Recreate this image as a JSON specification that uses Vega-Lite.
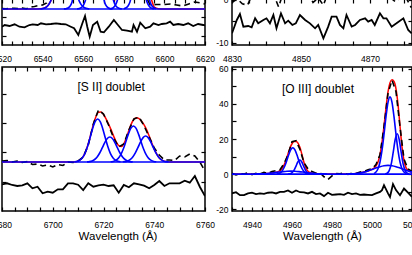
{
  "$schema": "https://vega.github.io/schema/vega-lite/v6.json",
  "autosize": {"type": "none"},
  "padding": {"left": 2, "top": -1, "right": 410, "bottom": 256},
  "background": "white",
  "config": {
    "view": {"stroke": "#000", "strokeWidth": 1.5},
    "axis": {"labelFont": "Liberation Sans", "labelFontSize": 8.5, "labelColor": "#000", "titleFont": "Liberation Sans", "titleFontSize": 11.5, "titleFontWeight": "normal", "titleColor": "#000", "domain": false, "grid": false, "tickColor": "#000", "tickWidth": 1.2, "tickSize": -4, "labelFlush": false, "labelOverlap": false, "titlePadding": 2, "format": "d"},
    "axisX": {"labelPadding": 13},
    "axisY": {"labelPadding": 8}
  },
  "columns": 2,
  "spacing": {"row": 22, "column": 27},
  "bounds": "flush",
  "datasets": {
    "tl_blue": [
      {"c":"C1","w":6539,"f":0.17},{"c":"C1","w":6540,"f":0.43},{"c":"C1","w":6541,"f":1.0},{"c":"C1","w":6542,"f":2.2},{"c":"C1","w":6543,"f":4.4},{"c":"C1","w":6544,"f":8.1},{"c":"C1","w":6545,"f":13.8},{"c":"C1","w":6546,"f":21.6},{"c":"C1","w":6556,"f":21.6},{"c":"C1","w":6557,"f":13.8},{"c":"C1","w":6558,"f":8.1},{"c":"C1","w":6559,"f":4.4},{"c":"C1","w":6560,"f":2.2},{"c":"C1","w":6561,"f":1.0},{"c":"C1","w":6562,"f":0.43},{"c":"C1","w":6563,"f":0.17},
      {"c":"C2","w":6550.5,"f":0.08},{"c":"C2","w":6551.5,"f":0.3},{"c":"C2","w":6552.5,"f":0.96},{"c":"C2","w":6553.5,"f":2.8},{"c":"C2","w":6554.5,"f":7.1},{"c":"C2","w":6555.5,"f":16.5},{"c":"C2","w":6569.5,"f":16.5},{"c":"C2","w":6570.5,"f":7.1},{"c":"C2","w":6571.5,"f":2.8},{"c":"C2","w":6572.5,"f":0.96},{"c":"C2","w":6573.5,"f":0.3},{"c":"C2","w":6574.5,"f":0.08},
      {"c":"C3","w":6557,"f":0.14},{"c":"C3","w":6558,"f":0.47},{"c":"C3","w":6559,"f":1.3},{"c":"C3","w":6560,"f":3.4},{"c":"C3","w":6561,"f":7.9},{"c":"C3","w":6562,"f":16.2},{"c":"C3","w":6574,"f":16.2},{"c":"C3","w":6575,"f":7.9},{"c":"C3","w":6576,"f":3.4},{"c":"C3","w":6577,"f":1.3},{"c":"C3","w":6578,"f":0.47},{"c":"C3","w":6579,"f":0.14},
      {"c":"C4","w":6573,"f":0.18},{"c":"C4","w":6574,"f":0.58},{"c":"C4","w":6575,"f":1.65},{"c":"C4","w":6576,"f":4.3},{"c":"C4","w":6577,"f":9.9},{"c":"C4","w":6578,"f":20.3},{"c":"C4","w":6590,"f":20.3},{"c":"C4","w":6591,"f":9.9},{"c":"C4","w":6592,"f":4.3},{"c":"C4","w":6593,"f":1.65},{"c":"C4","w":6594,"f":0.58},{"c":"C4","w":6595,"f":0.18},
      {"c":"C5","w":6580,"f":0.3},{"c":"C5","w":6581,"f":1.0},{"c":"C5","w":6582,"f":2.8},{"c":"C5","w":6583,"f":6.8},{"c":"C5","w":6584,"f":13.9},{"c":"C5","w":6592,"f":13.9},{"c":"C5","w":6593,"f":6.8},{"c":"C5","w":6594,"f":2.8},{"c":"C5","w":6595,"f":1.0},{"c":"C5","w":6596,"f":0.3},
      {"c":"base","w":6520,"f":0},{"c":"base","w":6620,"f":0}
    ],
    "tl_red": [
      {"w":6520,"f":0},{"w":6536,"f":0},{"w":6539,"f":0.2},{"w":6541,"f":1.0},{"w":6543,"f":4.4},{"w":6545,"f":14},{"w":6547,"f":40},{"w":6573,"f":25},{"w":6575.5,"f":9},{"w":6578,"f":25},{"w":6593,"f":12},{"w":6595,"f":2},{"w":6597,"f":0.3},{"w":6600,"f":0},{"w":6620,"f":0}
    ],
    "tl_data": [
      {"w":6520,"f":0.5},{"w":6522,"f":0.2},{"w":6524,"f":0.8},{"w":6526,"f":0.7},{"w":6528,"f":0.5},{"w":6530,"f":1.0},{"w":6532,"f":0.3},{"w":6534,"f":2.0},{"w":6536,"f":2.5},{"w":6538,"f":3.5},{"w":6540,"f":4.0},{"w":6542,"f":6},{"w":6544,"f":14},{"w":6546,"f":35},{"w":6550,"f":60},{"w":6556,"f":50},{"w":6562,"f":120},{"w":6570,"f":60},{"w":6576,"f":30},{"w":6584,"f":70},{"w":6589,"f":30},{"w":6591,"f":12},{"w":6593,"f":4},{"w":6596,"f":4.5},{"w":6600,"f":4.5},{"w":6603,"f":5},{"w":6606,"f":4},{"w":6609,"f":3},{"w":6612,"f":5},{"w":6615,"f":7},{"w":6618,"f":6},{"w":6620,"f":5}
    ],
    "tl_res": [
      {"w":6520,"f":-17.7},{"w":6521.3,"f":-16},{"w":6523.7,"f":-17},{"w":6526.2,"f":-15.3},{"w":6528.6,"f":-17.7},{"w":6531.1,"f":-18.3},{"w":6533.5,"f":-16},{"w":6535.1,"f":-15.3},{"w":6537.6,"f":-16},{"w":6539.2,"f":-14.3},{"w":6541.7,"f":-15.3},{"w":6544.1,"f":-15},{"w":6546.6,"f":-14.3},{"w":6549,"f":-15},{"w":6551.4,"f":-15.3},{"w":6553.9,"f":-17.7},{"w":6555.5,"f":-19.3},{"w":6557.6,"f":-26},{"w":6559.6,"f":-14.3},{"w":6560.9,"f":-7},{"w":6562,"f":-17.7},{"w":6563.2,"f":-27.7},{"w":6564.8,"f":-16},{"w":6566.9,"f":-12.7},{"w":6568.6,"f":-22.7},{"w":6570.2,"f":-23.3},{"w":6572.6,"f":-17.7},{"w":6575.1,"f":-11},{"w":6576.7,"f":-15},{"w":6579.1,"f":-21},{"w":6581.6,"f":-21.7},{"w":6584,"f":-22.7},{"w":6584.8,"f":-16},{"w":6586.5,"f":-22.7},{"w":6588.1,"f":-13.7},{"w":6590.6,"f":-19.3},{"w":6593,"f":-17.7},{"w":6594.6,"f":-14.3},{"w":6597.1,"f":-16},{"w":6598.7,"f":-15},{"w":6601.1,"f":-14.3},{"w":6602.8,"f":-12.7},{"w":6604.4,"f":-16},{"w":6606.8,"f":-15},{"w":6609.3,"f":-16},{"w":6611.7,"f":-14.3},{"w":6614.2,"f":-17},{"w":6616.6,"f":-15},{"w":6619.1,"f":-16},{"w":6620,"f":-16.5}
    ],
    "tr_data": [
      {"w":4830,"f":-0.6},{"w":4831.5,"f":0.3},{"w":4833,"f":-0.9},{"w":4834.5,"f":-1.2},{"w":4836,"f":1.5},{"w":4837.5,"f":2.5},{"w":4839,"f":1.5},{"w":4840.5,"f":3},{"w":4842,"f":1.5},{"w":4843.5,"f":-1.6},{"w":4845,"f":2},{"w":4846.5,"f":1.5},{"w":4848,"f":3},{"w":4849.5,"f":2},{"w":4851,"f":1.5},{"w":4852.5,"f":1},{"w":4853.5,"f":-0.6},{"w":4855,"f":0.5},{"w":4856.5,"f":-1.2},{"w":4858,"f":2},{"w":4859.5,"f":3},{"w":4861,"f":2},{"w":4862.5,"f":1.5},{"w":4864,"f":3},{"w":4865.5,"f":2},{"w":4867,"f":1.5},{"w":4868.5,"f":2.5},{"w":4870,"f":2},{"w":4871.5,"f":1},{"w":4873,"f":2},{"w":4874.5,"f":1.5},{"w":4876,"f":0.5},{"w":4877.5,"f":-0.5},{"w":4879,"f":1},{"w":4880.5,"f":0.5},{"w":4882,"f":-1.8}
    ],
    "tr_res": [
      {"w":4830,"f":-7.75},{"w":4831.4,"f":-4.65},{"w":4832.3,"f":-3.26},{"w":4833.3,"f":-6.2},{"w":4834.7,"f":-6.05},{"w":4835.7,"f":-6.36},{"w":4836.7,"f":-4.26},{"w":4837.6,"f":-5.43},{"w":4839.1,"f":-4.65},{"w":4840,"f":-4.26},{"w":4841,"f":-5.43},{"w":4842,"f":-3.49},{"w":4842.9,"f":-6.59},{"w":4844.2,"f":-3.1},{"w":4845.4,"f":-5.43},{"w":4846.3,"f":-4.81},{"w":4847.5,"f":-5.81},{"w":4848.5,"f":-5.43},{"w":4849.7,"f":-3.49},{"w":4851.2,"f":-4.65},{"w":4852.6,"f":-5.43},{"w":4854.1,"f":-6.59},{"w":4855,"f":-5.81},{"w":4856.5,"f":-8.91},{"w":4857.9,"f":-6.2},{"w":4858.9,"f":-3.88},{"w":4860.3,"f":-3.88},{"w":4861.3,"f":-5.81},{"w":4862.3,"f":-6.59},{"w":4863.2,"f":-3.49},{"w":4864.7,"f":-6.2},{"w":4865.7,"f":-5.81},{"w":4867.1,"f":-4.65},{"w":4868.6,"f":-4.26},{"w":4869.5,"f":-5.04},{"w":4870.5,"f":-4.65},{"w":4871.4,"f":-5.81},{"w":4872.9,"f":-3.1},{"w":4873.9,"f":-4.26},{"w":4874.8,"f":-4.26},{"w":4876.3,"f":-6.2},{"w":4877.7,"f":-5.43},{"w":4879.7,"f":-4.26},{"w":4881.1,"f":-6.98},{"w":4882.1,"f":-7.75}
    ],
    "bl_blue": [
      {"c":"B1","w":6708.7,"f":49.3},{"c":"B1","w":6709.7,"f":49.7},{"c":"B1","w":6710.7,"f":50.9},{"c":"B1","w":6711.7,"f":53.3},{"c":"B1","w":6712.7,"f":57.7},{"c":"B1","w":6713.7,"f":64.5},{"c":"B1","w":6714.7,"f":73.2},{"c":"B1","w":6715.7,"f":82.3},{"c":"B1","w":6716.7,"f":89.3},{"c":"B1","w":6717.7,"f":92},{"c":"B1","w":6718.7,"f":89.3},{"c":"B1","w":6719.7,"f":82.3},{"c":"B1","w":6720.7,"f":73.2},{"c":"B1","w":6721.7,"f":64.5},{"c":"B1","w":6722.7,"f":57.7},{"c":"B1","w":6723.7,"f":53.3},{"c":"B1","w":6724.7,"f":50.9},{"c":"B1","w":6725.7,"f":49.7},{"c":"B1","w":6726.7,"f":49.3},
      {"c":"B2","w":6713.5,"f":49.15},{"c":"B2","w":6714.5,"f":49.4},{"c":"B2","w":6715.5,"f":50.1},{"c":"B2","w":6716.5,"f":51.5},{"c":"B2","w":6717.5,"f":54.1},{"c":"B2","w":6718.5,"f":58},{"c":"B2","w":6719.5,"f":63.1},{"c":"B2","w":6720.5,"f":68.4},{"c":"B2","w":6721.5,"f":72.5},{"c":"B2","w":6722.5,"f":74},{"c":"B2","w":6723.5,"f":72.5},{"c":"B2","w":6724.5,"f":68.4},{"c":"B2","w":6725.5,"f":63.1},{"c":"B2","w":6726.5,"f":58},{"c":"B2","w":6727.5,"f":54.1},{"c":"B2","w":6728.5,"f":51.5},{"c":"B2","w":6729.5,"f":50.1},{"c":"B2","w":6730.5,"f":49.4},{"c":"B2","w":6731.5,"f":49.15},
      {"c":"B3","w":6722.8,"f":49.2},{"c":"B3","w":6723.8,"f":49.6},{"c":"B3","w":6724.8,"f":50.6},{"c":"B3","w":6725.8,"f":52.6},{"c":"B3","w":6726.8,"f":56.3},{"c":"B3","w":6727.8,"f":62},{"c":"B3","w":6728.8,"f":69.3},{"c":"B3","w":6729.8,"f":76.9},{"c":"B3","w":6730.8,"f":82.8},{"c":"B3","w":6731.8,"f":85},{"c":"B3","w":6732.8,"f":82.8},{"c":"B3","w":6733.8,"f":76.9},{"c":"B3","w":6734.8,"f":69.3},{"c":"B3","w":6735.8,"f":62},{"c":"B3","w":6736.8,"f":56.3},{"c":"B3","w":6737.8,"f":52.6},{"c":"B3","w":6738.8,"f":50.6},{"c":"B3","w":6739.8,"f":49.6},{"c":"B3","w":6740.8,"f":49.2},
      {"c":"B4","w":6727.6,"f":49.2},{"c":"B4","w":6728.6,"f":49.4},{"c":"B4","w":6729.6,"f":50.1},{"c":"B4","w":6730.6,"f":51.6},{"c":"B4","w":6731.6,"f":54.3},{"c":"B4","w":6732.6,"f":58.4},{"c":"B4","w":6733.6,"f":63.6},{"c":"B4","w":6734.6,"f":69.2},{"c":"B4","w":6735.6,"f":73.4},{"c":"B4","w":6736.6,"f":75},{"c":"B4","w":6737.6,"f":73.4},{"c":"B4","w":6738.6,"f":69.2},{"c":"B4","w":6739.6,"f":63.6},{"c":"B4","w":6740.6,"f":58.4},{"c":"B4","w":6741.6,"f":54.3},{"c":"B4","w":6742.6,"f":51.6},{"c":"B4","w":6743.6,"f":50.1},{"c":"B4","w":6744.6,"f":49.4},{"c":"B4","w":6745.6,"f":49.2},
      {"c":"base","w":6680,"f":49},{"c":"base","w":6760,"f":49}
    ],
    "bl_red": [
      {"w":6680,"f":49},{"w":6704,"f":49},{"w":6706,"f":49},{"w":6707,"f":49.05},{"w":6708,"f":49.1},{"w":6709,"f":49.3},{"w":6710,"f":50},{"w":6711,"f":51.5},{"w":6712,"f":54.4},{"w":6713,"f":59.6},{"w":6714,"f":67.2},{"w":6715,"f":76.7},{"w":6716,"f":86.5},{"w":6717,"f":94.3},{"w":6718,"f":98.7},{"w":6719,"f":99.1},{"w":6720,"f":96.5},{"w":6721,"f":92.2},{"w":6722,"f":86.9},{"w":6723,"f":81.1},{"w":6724,"f":74.9},{"w":6725,"f":69.1},{"w":6726,"f":65.3},{"w":6727,"f":64.4},{"w":6728,"f":67.2},{"w":6729,"f":73.1},{"w":6730,"f":80.6},{"w":6731,"f":87.4},{"w":6732,"f":91.7},{"w":6733,"f":93.2},{"w":6734,"f":92.3},{"w":6735,"f":89.8},{"w":6736,"f":86.1},{"w":6737,"f":81.1},{"w":6738,"f":75},{"w":6739,"f":68.3},{"w":6740,"f":61.9},{"w":6741,"f":56.8},{"w":6742,"f":53.1},{"w":6743,"f":50.9},{"w":6744,"f":49.8},{"w":6745,"f":49.3},{"w":6746,"f":49.1},{"w":6748,"f":49},{"w":6760,"f":49}
    ],
    "bl_data": [
      {"w":6680,"f":50},{"w":6682,"f":50.5},{"w":6684,"f":49},{"w":6686,"f":50},{"w":6688,"f":48.5},{"w":6690,"f":49.5},{"w":6692,"f":46.5},{"w":6694,"f":47},{"w":6696,"f":45},{"w":6698,"f":46},{"w":6700,"f":44},{"w":6702,"f":46.5},{"w":6704,"f":45.5},{"w":6706,"f":49},{"w":6708,"f":48.5},{"w":6710,"f":50},{"w":6712,"f":54},{"w":6714,"f":66},{"w":6716,"f":87},{"w":6718,"f":101},{"w":6720,"f":97},{"w":6722,"f":86},{"w":6724,"f":73},{"w":6726,"f":64},{"w":6728,"f":67},{"w":6730,"f":81},{"w":6732,"f":92},{"w":6734,"f":94},{"w":6736,"f":85},{"w":6738,"f":74},{"w":6740,"f":63},{"w":6742,"f":56},{"w":6744,"f":51},{"w":6746,"f":51},{"w":6748,"f":50.5},{"w":6750,"f":55},{"w":6752,"f":54},{"w":6754,"f":57},{"w":6756,"f":55},{"w":6758,"f":49},{"w":6760,"f":40}
    ],
    "bl_res": [
      {"w":6680,"f":26.7},{"w":6682,"f":27.7},{"w":6684,"f":26},{"w":6686,"f":25},{"w":6688,"f":25.7},{"w":6690,"f":27.7},{"w":6692,"f":22.7},{"w":6694,"f":24.3},{"w":6696,"f":17.7},{"w":6698,"f":19.3},{"w":6700,"f":18.3},{"w":6702,"f":21.7},{"w":6704,"f":21.7},{"w":6706,"f":27.7},{"w":6708,"f":27.7},{"w":6710,"f":26.3},{"w":6712,"f":21},{"w":6714,"f":27.7},{"w":6716,"f":24.3},{"w":6718,"f":25.7},{"w":6720,"f":26.3},{"w":6722,"f":25},{"w":6724,"f":25.7},{"w":6726,"f":18.3},{"w":6728,"f":26},{"w":6730,"f":23.7},{"w":6732,"f":27.7},{"w":6734,"f":26.7},{"w":6736,"f":25.3},{"w":6738,"f":22.7},{"w":6740,"f":26},{"w":6742,"f":30},{"w":6744,"f":25},{"w":6746,"f":27.7},{"w":6748,"f":27.7},{"w":6750,"f":27.7},{"w":6752,"f":30.3},{"w":6754,"f":28.3},{"w":6756,"f":35},{"w":6758,"f":24},{"w":6760,"f":15}
    ],
    "br_blue": [
      {"c":"A1","w":5001,"f":0.4},{"c":"A1","w":5002,"f":1.2},{"c":"A1","w":5003,"f":3.1},{"c":"A1","w":5004,"f":6.9},{"c":"A1","w":5005,"f":13.5},{"c":"A1","w":5006,"f":22.6},{"c":"A1","w":5007,"f":32.7},{"c":"A1","w":5008,"f":40.9},{"c":"A1","w":5009,"f":44},{"c":"A1","w":5010,"f":40.9},{"c":"A1","w":5011,"f":32.7},{"c":"A1","w":5012,"f":22.6},{"c":"A1","w":5013,"f":13.5},{"c":"A1","w":5014,"f":6.9},{"c":"A1","w":5015,"f":3.1},{"c":"A1","w":5016,"f":1.2},{"c":"A1","w":5017,"f":0.4},
      {"c":"A2","w":5006.6,"f":0.1},{"c":"A2","w":5007.6,"f":0.5},{"c":"A2","w":5008.6,"f":2.0},{"c":"A2","w":5009.6,"f":5.7},{"c":"A2","w":5010.6,"f":12.4},{"c":"A2","w":5011.6,"f":19.7},{"c":"A2","w":5012.6,"f":23},{"c":"A2","w":5013.6,"f":19.7},{"c":"A2","w":5014.6,"f":12.4},{"c":"A2","w":5015.6,"f":5.7},{"c":"A2","w":5016.6,"f":2.0},{"c":"A2","w":5017.6,"f":0.5},{"c":"A2","w":5018.6,"f":0.1},
      {"c":"A3","w":4988,"f":0.09},{"c":"A3","w":4990,"f":0.19},{"c":"A3","w":4992,"f":0.37},{"c":"A3","w":4994,"f":0.68},{"c":"A3","w":4996,"f":1.15},{"c":"A3","w":4998,"f":1.8},{"c":"A3","w":5000,"f":2.6},{"c":"A3","w":5002,"f":3.47},{"c":"A3","w":5004,"f":4.25},{"c":"A3","w":5006,"f":4.8},{"c":"A3","w":5008,"f":5},{"c":"A3","w":5010,"f":4.8},{"c":"A3","w":5012,"f":4.25},{"c":"A3","w":5014,"f":3.47},{"c":"A3","w":5016,"f":2.6},{"c":"A3","w":5018,"f":1.8},{"c":"A3","w":5020,"f":1.15},{"c":"A3","w":5022,"f":0.68},
      {"c":"D1","w":4952.4,"f":0.13},{"c":"D1","w":4953.4,"f":0.4},{"c":"D1","w":4954.4,"f":1.05},{"c":"D1","w":4955.4,"f":2.4},{"c":"D1","w":4956.4,"f":4.6},{"c":"D1","w":4957.4,"f":7.7},{"c":"D1","w":4958.4,"f":11.2},{"c":"D1","w":4959.4,"f":13.9},{"c":"D1","w":4960.4,"f":15},{"c":"D1","w":4961.4,"f":13.9},{"c":"D1","w":4962.4,"f":11.2},{"c":"D1","w":4963.4,"f":7.7},{"c":"D1","w":4964.4,"f":4.6},{"c":"D1","w":4965.4,"f":2.4},{"c":"D1","w":4966.4,"f":1.05},{"c":"D1","w":4967.4,"f":0.4},{"c":"D1","w":4968.4,"f":0.13},
      {"c":"D2","w":4957.9,"f":0.03},{"c":"D2","w":4958.9,"f":0.17},{"c":"D2","w":4959.9,"f":0.7},{"c":"D2","w":4960.9,"f":2.0},{"c":"D2","w":4961.9,"f":4.3},{"c":"D2","w":4962.9,"f":6.9},{"c":"D2","w":4963.9,"f":8},{"c":"D2","w":4964.9,"f":6.9},{"c":"D2","w":4965.9,"f":4.3},{"c":"D2","w":4966.9,"f":2.0},{"c":"D2","w":4967.9,"f":0.7},{"c":"D2","w":4968.9,"f":0.17},{"c":"D2","w":4969.9,"f":0.03},
      {"c":"D3","w":4941.5,"f":0.06},{"c":"D3","w":4943.5,"f":0.12},{"c":"D3","w":4945.5,"f":0.23},{"c":"D3","w":4947.5,"f":0.39},{"c":"D3","w":4949.5,"f":0.61},{"c":"D3","w":4951.5,"f":0.89},{"c":"D3","w":4953.5,"f":1.18},{"c":"D3","w":4955.5,"f":1.44},{"c":"D3","w":4957.5,"f":1.63},{"c":"D3","w":4959.5,"f":1.7},{"c":"D3","w":4961.5,"f":1.63},{"c":"D3","w":4963.5,"f":1.44},{"c":"D3","w":4965.5,"f":1.18},{"c":"D3","w":4967.5,"f":0.89},{"c":"D3","w":4969.5,"f":0.61},{"c":"D3","w":4971.5,"f":0.39},{"c":"D3","w":4973.5,"f":0.23},{"c":"D3","w":4975.5,"f":0.12},{"c":"D3","w":4977.5,"f":0.06},
      {"c":"base","w":4930,"f":0},{"c":"base","w":5020,"f":0}
    ],
    "br_red": [
      {"w":4930,"f":0},{"w":4940,"f":0.02},{"w":4943,"f":0.12},{"w":4945,"f":0.2},{"w":4947,"f":0.35},{"w":4949,"f":0.55},{"w":4950,"f":0.7},{"w":4951,"f":0.83},{"w":4952,"f":1.04},{"w":4953,"f":1.36},{"w":4954,"f":1.97},{"w":4955,"f":3.12},{"w":4956,"f":5.1},{"w":4957,"f":8.0},{"w":4958,"f":11.5},{"w":4959,"f":14.9},{"w":4960,"f":17.3},{"w":4961,"f":18.5},{"w":4962,"f":18.6},{"w":4963,"f":17.7},{"w":4964,"f":15.1},{"w":4965,"f":11.0},{"w":4966,"f":6.6},{"w":4967,"f":3.4},{"w":4968,"f":1.6},{"w":4969,"f":0.9},{"w":4970,"f":0.57},{"w":4972,"f":0.35},{"w":4974,"f":0.2},{"w":4976,"f":0.1},{"w":4978,"f":0.05},{"w":4982,"f":0.02},{"w":4986,"f":0.04},{"w":4988,"f":0.09},{"w":4990,"f":0.18},{"w":4992,"f":0.37},{"w":4994,"f":0.68},{"w":4996,"f":1.15},{"w":4998,"f":1.8},{"w":4999,"f":2.2},{"w":5000,"f":2.7},{"w":5001,"f":3.4},{"w":5002,"f":4.65},{"w":5003,"f":6.95},{"w":5004,"f":11.15},{"w":5005,"f":18.1},{"w":5006,"f":27.4},{"w":5007,"f":37.8},{"w":5008,"f":46.8},{"w":5009,"f":52.1},{"w":5010,"f":53.8},{"w":5011,"f":52.8},{"w":5012,"f":48.6},{"w":5013,"f":39.8},{"w":5014,"f":27.4},{"w":5015,"f":15.5},{"w":5016,"f":7.7},{"w":5017,"f":3.7},{"w":5018,"f":2.2},{"w":5019,"f":1.5},{"w":5020,"f":1.15}
    ],
    "br_data": [
      {"w":4930,"f":0.5},{"w":4932,"f":-0.5},{"w":4934,"f":0.3},{"w":4936,"f":0},{"w":4938,"f":0.8},{"w":4940,"f":-0.3},{"w":4942,"f":0.5},{"w":4944,"f":0.2},{"w":4946,"f":1.0},{"w":4948,"f":0.4},{"w":4950,"f":1.5},{"w":4952,"f":2.0},{"w":4954,"f":2.5},{"w":4956,"f":6.0},{"w":4958,"f":11.0},{"w":4960,"f":18.5},{"w":4962,"f":19.0},{"w":4964,"f":14.0},{"w":4966,"f":6.5},{"w":4968,"f":3.0},{"w":4970,"f":1.5},{"w":4972,"f":0.5},{"w":4974,"f":0.8},{"w":4976,"f":-1.5},{"w":4978,"f":-3},{"w":4980,"f":-1},{"w":4982,"f":0.4},{"w":4984,"f":0.2},{"w":4986,"f":0.6},{"w":4988,"f":-0.2},{"w":4990,"f":0.5},{"w":4992,"f":0.3},{"w":4994,"f":1.2},{"w":4996,"f":1.5},{"w":4998,"f":2.5},{"w":5000,"f":3.0},{"w":5002,"f":5.5},{"w":5004,"f":11},{"w":5006,"f":27},{"w":5008,"f":46},{"w":5010,"f":53.5},{"w":5012,"f":47},{"w":5014,"f":27},{"w":5016,"f":8.5},{"w":5018,"f":3},{"w":5020,"f":1.5}
    ],
    "br_res": [
      {"w":4930,"f":-11.0},{"w":4932,"f":-10.3},{"w":4934,"f":-12.0},{"w":4936,"f":-12},{"w":4938,"f":-11},{"w":4940,"f":-10.6},{"w":4942,"f":-11.4},{"w":4944,"f":-11.0},{"w":4946,"f":-11.2},{"w":4948,"f":-10.6},{"w":4950,"f":-10.4},{"w":4952,"f":-11},{"w":4954,"f":-10.1},{"w":4956,"f":-10.1},{"w":4958,"f":-9.3},{"w":4960,"f":-10.6},{"w":4962,"f":-9.3},{"w":4964,"f":-10.3},{"w":4966,"f":-10.4},{"w":4968,"f":-11},{"w":4970,"f":-10.1},{"w":4972,"f":-11.4},{"w":4974,"f":-11},{"w":4976,"f":-12.5},{"w":4978,"f":-10.6},{"w":4980,"f":-11.8},{"w":4982,"f":-11.6},{"w":4984,"f":-11.4},{"w":4986,"f":-11.8},{"w":4988,"f":-10.6},{"w":4990,"f":-11.4},{"w":4992,"f":-11},{"w":4994,"f":-11.8},{"w":4996,"f":-11.6},{"w":4998,"f":-11.8},{"w":5000,"f":-12},{"w":5002,"f":-11},{"w":5004,"f":-10.1},{"w":5005,"f":-9.1},{"w":5006,"f":-6.3},{"w":5008,"f":-11},{"w":5009,"f":-13},{"w":5010.5,"f":-5.7},{"w":5012,"f":-9.1},{"w":5014,"f":-12},{"w":5016,"f":-8.2},{"w":5018,"f":-10.6},{"w":5020,"f":-12.9}
    ]
  },
  "concat": [
    {
      "width": 203, "height": 46,
      "layer": [
        {"data": {"name": "tl_red"}, "mark": {"type": "line", "color": "#ff0000", "strokeWidth": 1.5, "interpolate": "monotone", "clip": true},
         "encoding": {
           "x": {"field": "w", "type": "quantitative", "scale": {"domain": [6520, 6620], "nice": false, "zero": false},
                 "axis": {"orient": "bottom", "values": [6520,6525,6530,6535,6540,6545,6550,6555,6560,6565,6570,6575,6580,6585,6590,6595,6600,6605,6610,6615,6620], "labelExpr": "datum.value % 20 === 0 ? '' + datum.value : ''", "title": null}},
           "y": {"field": "f", "type": "quantitative", "scale": {"domain": [-36, 10], "nice": false, "zero": false},
                 "axis": {"orient": "left", "values": [-27, -7.7], "labels": false, "title": null}}}},
        {"data": {"name": "tl_data"}, "mark": {"type": "line", "color": "#000", "strokeWidth": 1.6, "strokeDash": [6, 4], "clip": true},
         "encoding": {
           "x": {"field": "w", "type": "quantitative", "scale": {"domain": [6520, 6620], "nice": false, "zero": false},
                 "axis": {"orient": "top", "values": [6520,6525,6530,6535,6540,6545,6550,6555,6560,6565,6570,6575,6580,6585,6590,6595,6600,6605,6610,6615,6620], "labels": false, "title": null}},
           "y": {"field": "f", "type": "quantitative", "scale": {"domain": [-36, 10], "nice": false, "zero": false},
                 "axis": {"orient": "right", "values": [-27, -7.7], "labels": false, "title": null}}}},
        {"data": {"name": "tl_blue"}, "mark": {"type": "line", "color": "#0000ff", "strokeWidth": 1.6, "interpolate": "monotone", "clip": true},
         "encoding": {
           "x": {"field": "w", "type": "quantitative", "scale": {"domain": [6520, 6620], "nice": false, "zero": false}, "axis": null},
           "y": {"field": "f", "type": "quantitative", "scale": {"domain": [-36, 10], "nice": false, "zero": false}, "axis": null},
           "detail": {"field": "c"}}},
        {"data": {"name": "tl_res"}, "mark": {"type": "line", "color": "#000", "strokeWidth": 1.8, "clip": true},
         "encoding": {
           "x": {"field": "w", "type": "quantitative", "scale": {"domain": [6520, 6620], "nice": false, "zero": false}, "axis": null},
           "y": {"field": "f", "type": "quantitative", "scale": {"domain": [-36, 10], "nice": false, "zero": false}, "axis": null}}}
      ],
      "resolve": {"axis": {"x": "independent", "y": "independent"}}
    },
    {
      "width": 180, "height": 46,
      "layer": [
        {"data": {"name": "tr_data"}, "mark": {"type": "line", "color": "#000", "strokeWidth": 1.6, "strokeDash": [6, 4], "clip": true},
         "encoding": {
           "x": {"field": "w", "type": "quantitative", "scale": {"domain": [4830, 4882.2], "nice": false, "zero": false},
                 "axis": {"orient": "bottom", "values": [4830,4835,4840,4845,4850,4855,4860,4865,4870,4875,4880], "labelExpr": "(datum.value - 4830) % 20 === 0 ? '' + datum.value : ''", "title": null}},
           "y": {"field": "f", "type": "quantitative", "scale": {"domain": [-10.47, 0.23], "nice": false, "zero": false},
                 "axis": {"orient": "left", "values": [-10, -5, 0], "labelExpr": "datum.value % 10 === 0 ? '' + datum.value : ''", "title": null}}}},
        {"data": {"name": "tr_res"}, "mark": {"type": "line", "color": "#000", "strokeWidth": 1.8, "clip": true},
         "encoding": {
           "x": {"field": "w", "type": "quantitative", "scale": {"domain": [4830, 4882.2], "nice": false, "zero": false},
                 "axis": {"orient": "top", "values": [4830,4835,4840,4845,4850,4855,4860,4865,4870,4875,4880], "labels": false, "title": null}},
           "y": {"field": "f", "type": "quantitative", "scale": {"domain": [-10.47, 0.23], "nice": false, "zero": false},
                 "axis": {"orient": "right", "values": [-10, -5, 0], "labels": false, "title": null}}}}
      ],
      "resolve": {"axis": {"x": "independent", "y": "independent"}}
    },
    {
      "width": 203, "height": 144,
      "layer": [
        {"data": {"name": "bl_red"}, "mark": {"type": "line", "color": "#ff0000", "strokeWidth": 1.5, "interpolate": "monotone", "clip": true},
         "encoding": {
           "x": {"field": "w", "type": "quantitative", "scale": {"domain": [6680, 6760], "nice": false, "zero": false},
                 "axis": {"orient": "bottom", "values": [6680,6685,6690,6695,6700,6705,6710,6715,6720,6725,6730,6735,6740,6745,6750,6755,6760], "labelExpr": "datum.value % 20 === 0 ? '' + datum.value : ''", "title": "Wavelength (Å)", "titleX": 115.5}},
           "y": {"field": "f", "type": "quantitative", "scale": {"domain": [0, 144], "nice": false, "zero": false},
                 "axis": {"orient": "left", "values": [29.3, 58.6, 87.9, 117.2], "labels": false, "title": null}}}},
        {"data": {"name": "bl_data"}, "mark": {"type": "line", "color": "#000", "strokeWidth": 1.6, "strokeDash": [6, 4], "clip": true},
         "encoding": {
           "x": {"field": "w", "type": "quantitative", "scale": {"domain": [6680, 6760], "nice": false, "zero": false},
                 "axis": {"orient": "top", "values": [6680,6685,6690,6695,6700,6705,6710,6715,6720,6725,6730,6735,6740,6745,6750,6755,6760], "labels": false, "title": null}},
           "y": {"field": "f", "type": "quantitative", "scale": {"domain": [0, 144], "nice": false, "zero": false},
                 "axis": {"orient": "right", "values": [29.3, 58.6, 87.9, 117.2], "labels": false, "title": null}}}},
        {"data": {"name": "bl_blue"}, "mark": {"type": "line", "color": "#0000ff", "strokeWidth": 1.6, "interpolate": "monotone", "clip": true},
         "encoding": {
           "x": {"field": "w", "type": "quantitative", "scale": {"domain": [6680, 6760], "nice": false, "zero": false}, "axis": null},
           "y": {"field": "f", "type": "quantitative", "scale": {"domain": [0, 144], "nice": false, "zero": false}, "axis": null},
           "detail": {"field": "c"}}},
        {"data": {"name": "bl_res"}, "mark": {"type": "line", "color": "#000", "strokeWidth": 1.8, "clip": true},
         "encoding": {
           "x": {"field": "w", "type": "quantitative", "scale": {"domain": [6680, 6760], "nice": false, "zero": false}, "axis": null},
           "y": {"field": "f", "type": "quantitative", "scale": {"domain": [0, 144], "nice": false, "zero": false}, "axis": null}}},
        {"data": {"values": [{}]}, "mark": {"type": "text", "font": "Liberation Sans", "fontSize": 12, "baseline": "middle", "align": "center", "color": "#000"},
         "encoding": {
           "x": {"datum": 6723, "type": "quantitative", "scale": {"domain": [6680, 6760], "nice": false, "zero": false}, "axis": null},
           "y": {"datum": 124, "type": "quantitative", "scale": {"domain": [0, 144], "nice": false, "zero": false}, "axis": null},
           "text": {"value": "[S II] doublet"}}}
      ],
      "resolve": {"axis": {"x": "independent", "y": "independent"}}
    },
    {
      "width": 180, "height": 144,
      "layer": [
        {"data": {"name": "br_red"}, "mark": {"type": "line", "color": "#ff0000", "strokeWidth": 1.5, "interpolate": "monotone", "clip": true},
         "encoding": {
           "x": {"field": "w", "type": "quantitative", "scale": {"domain": [4930, 5020], "nice": false, "zero": false},
                 "axis": {"orient": "bottom", "values": [4930,4935,4940,4945,4950,4955,4960,4965,4970,4975,4980,4985,4990,4995,5000,5005,5010,5015,5020], "labelExpr": "datum.value % 20 === 0 ? '' + datum.value : ''", "title": "Wavelength (Å)"}},
           "y": {"field": "f", "type": "quantitative", "scale": {"domain": [-21, 61], "nice": false, "zero": false},
                 "axis": {"orient": "left", "values": [-20, -10, 0, 10, 20, 30, 40, 50, 60], "labelExpr": "datum.value % 20 === 0 ? '' + datum.value : ''", "title": null}}}},
        {"data": {"name": "br_data"}, "mark": {"type": "line", "color": "#000", "strokeWidth": 1.6, "strokeDash": [6, 4], "clip": true},
         "encoding": {
           "x": {"field": "w", "type": "quantitative", "scale": {"domain": [4930, 5020], "nice": false, "zero": false},
                 "axis": {"orient": "top", "values": [4930,4935,4940,4945,4950,4955,4960,4965,4970,4975,4980,4985,4990,4995,5000,5005,5010,5015,5020], "labels": false, "title": null}},
           "y": {"field": "f", "type": "quantitative", "scale": {"domain": [-21, 61], "nice": false, "zero": false},
                 "axis": {"orient": "right", "values": [-20, -10, 0, 10, 20, 30, 40, 50, 60], "labels": false, "title": null}}}},
        {"data": {"name": "br_blue"}, "mark": {"type": "line", "color": "#0000ff", "strokeWidth": 1.6, "interpolate": "monotone", "clip": true},
         "encoding": {
           "x": {"field": "w", "type": "quantitative", "scale": {"domain": [4930, 5020], "nice": false, "zero": false}, "axis": null},
           "y": {"field": "f", "type": "quantitative", "scale": {"domain": [-21, 61], "nice": false, "zero": false}, "axis": null},
           "detail": {"field": "c"}}},
        {"data": {"name": "br_res"}, "mark": {"type": "line", "color": "#000", "strokeWidth": 1.8, "clip": true},
         "encoding": {
           "x": {"field": "w", "type": "quantitative", "scale": {"domain": [4930, 5020], "nice": false, "zero": false}, "axis": null},
           "y": {"field": "f", "type": "quantitative", "scale": {"domain": [-21, 61], "nice": false, "zero": false}, "axis": null}}},
        {"data": {"values": [{}]}, "mark": {"type": "text", "font": "Liberation Sans", "fontSize": 12, "baseline": "middle", "align": "center", "color": "#000"},
         "encoding": {
           "x": {"datum": 4973, "type": "quantitative", "scale": {"domain": [4930, 5020], "nice": false, "zero": false}, "axis": null},
           "y": {"datum": 48.5, "type": "quantitative", "scale": {"domain": [-21, 61], "nice": false, "zero": false}, "axis": null},
           "text": {"value": "[O III] doublet"}}}
      ],
      "resolve": {"axis": {"x": "independent", "y": "independent"}}
    }
  ]
}
